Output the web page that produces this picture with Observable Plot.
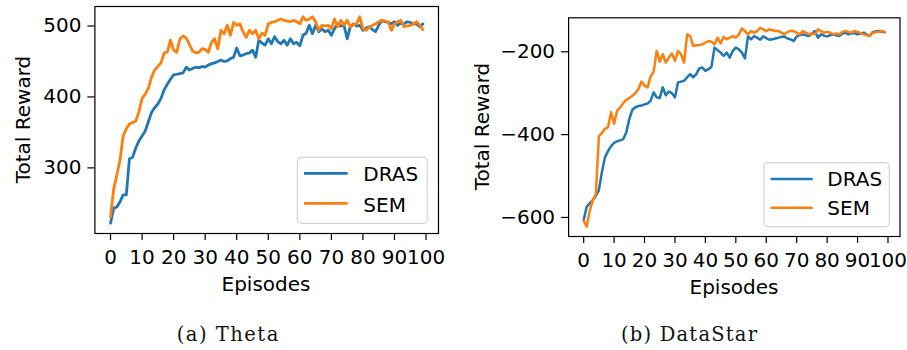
<!DOCTYPE html>
<html>
<head>
<meta charset="utf-8">
<script src="https://cdn.jsdelivr.net/npm/d3@7"></script>
<script src="https://cdn.jsdelivr.net/npm/@observablehq/plot@0.6"></script>
<style>
  html, body { margin: 0; padding: 0; background: #fff; }
  #wrap { position: relative; width: 907px; height: 350px; overflow: hidden; background: #fff; }
  .panel { position: absolute; top: 0; }
  #overlay { position: absolute; left: 0; top: 0; pointer-events: none; }
</style>
</head>
<body>
<div id="wrap">
  <div class="panel" id="left" style="left:0px"></div>
  <div class="panel" id="right" style="left:453px"></div>
  <svg id="overlay" width="907" height="350" xmlns="http://www.w3.org/2000/svg"></svg>
</div>
<script>
// ---- data ----
const episodes = d3.range(0, 100);
const xTicks = [0, 10, 20, 30, 40, 50, 60, 70, 80, 90, 100];
const seriesNames = ["DRAS", "SEM"];
const seriesColors = ["#1f77b4", "#ff7f0e"];
const captions = ["(a) Theta", "(b) DataStar"];

const thetaYTicks = [300, 400, 500];
const thetaDRAS = [222, 243, 245, 252, 262, 262, 313, 315, 328, 338,
  345, 352, 365, 378, 385, 390, 398, 410, 418, 425,
  431, 432, 433, 434, 442, 438, 440, 442, 441, 443,
  442, 445, 447, 448, 450, 452, 450, 451, 454, 456,
  469, 458, 459, 461, 462, 466, 456, 480, 476, 473,
  482, 475, 485, 478, 475, 480, 473, 482, 475, 477,
  472, 487, 490, 501, 489, 501, 492, 496, 492, 494,
  487, 496, 503, 500, 501, 482, 499, 503, 500, 501,
  494, 497, 499, 495, 492, 501, 508, 506, 505, 503,
  506, 501, 504, 503, 506, 505, 503, 503, 499, 503];
const thetaSEM = [231, 270, 290, 311, 345, 355, 362, 364, 366, 379,
  398, 404, 412, 428, 438, 443, 448, 462, 463, 480,
  466, 463, 482, 486, 483, 474, 465, 462, 463, 468,
  467, 463, 477, 482, 468, 494, 489, 501, 487, 505,
  501, 503, 492, 484, 494, 489, 494, 482, 490, 487,
  503, 505, 506, 508, 510, 508, 507, 506, 508, 506,
  503, 513, 508, 510, 513, 506, 494, 501, 500, 501,
  496, 510, 499, 508, 501, 508, 499, 502, 503, 513,
  496, 494, 498, 501, 503, 506, 508, 507, 506, 494,
  503, 506, 508, 499, 500, 501, 503, 506, 501, 495];

const dsYTicks = [-600, -400, -200];
const dataStarDRAS = [-606, -574, -566, -558, -548, -534, -490, -455, -440, -428,
  -420, -416, -414, -411, -395, -362, -340, -334, -331, -330,
  -327, -325, -318, -298, -310, -312, -286, -305, -296, -300,
  -310, -274, -272, -270, -262, -254, -262, -254, -240, -238,
  -246, -242, -236, -190, -196, -202, -210, -202, -214, -198,
  -190, -194, -202, -216, -163, -170, -162, -166, -171, -163,
  -167, -171, -170, -168, -166, -164, -163, -168, -170, -174,
  -163, -160, -158, -160, -162, -156, -150, -166, -158, -161,
  -163, -160, -158, -160, -162, -156, -154, -158, -156, -155,
  -158, -156, -154, -158, -162, -152, -151, -150, -152, -153];
const dataStarSEM = [-608, -622, -584, -558, -545, -404, -396, -386, -382, -346,
  -374, -342, -334, -324, -316, -312, -306, -300, -290, -272,
  -282, -286, -260, -248, -198, -224, -206, -226, -214, -204,
  -222, -198, -206, -226, -158, -162, -186, -184, -184, -182,
  -178, -174, -176, -182, -166, -180, -164, -170, -166, -162,
  -166, -158, -144, -150, -158, -150, -154, -150, -142, -146,
  -150, -146, -148, -150, -150, -154, -158, -152, -150, -150,
  -154, -158, -150, -154, -158, -156, -158, -146, -150, -154,
  -152, -154, -158, -156, -158, -152, -150, -152, -154, -150,
  -152, -155, -158, -160, -162, -154, -153, -152, -150, -152];

// ---- build tables ----
function table(a, b) {
  const rows = [];
  episodes.forEach((e, i) => rows.push({ep: e, v: a[i], s: seriesNames[0]}));
  episodes.forEach((e, i) => rows.push({ep: e, v: b[i], s: seriesNames[1]}));
  return rows;
}

function panel(opts) {
  const rows = table(opts.a, opts.b);
  return Plot.plot({
    width: opts.width, height: 300,
    marginLeft: opts.ml, marginRight: opts.mr, marginTop: opts.mt, marginBottom: 300 - opts.bottom,
    x: {domain: [-4.95, 103.95]},
    y: {domain: opts.ydom},
    style: {fontFamily: "DejaVu Sans", fontSize: "20px", background: "transparent", color: "black", overflow: "visible"},
    marks: [
      Plot.line(rows.filter(d => d.s === seriesNames[0]), {x: "ep", y: "v", stroke: seriesColors[0], strokeWidth: opts.lw}),
      Plot.line(rows.filter(d => d.s === seriesNames[1]), {x: "ep", y: "v", stroke: seriesColors[1], strokeWidth: opts.lw}),
      Plot.frame({stroke: "black", strokeWidth: 1.2}),
      Plot.axisX({ticks: xTicks, tickSize: 7, tickPadding: 9, label: null, fontSize: 20, strokeWidth: 1.2}),
      Plot.axisY({ticks: opts.yticks, tickSize: 7, tickPadding: 6.5, label: null, fontSize: 20, strokeWidth: 1.2})
    ]
  });
}

document.getElementById("left").appendChild(panel({
  a: thetaDRAS, b: thetaSEM, width: 453, ml: 94.4, mr: 15, mt: 6, bottom: 233,
  ydom: [207.5, 527.5], yticks: thetaYTicks, lw: 2.8
}));
document.getElementById("right").appendChild(panel({
  a: dataStarDRAS, b: dataStarSEM, width: 454, ml: 115.1, mr: 7.5, mt: 17.3, bottom: 236,
  ydom: [-646, -118], yticks: dsYTicks, lw: 2.5
}));

// ---- overlay text and legends ----
const ov = d3.select("#overlay");
function sans(x, y, txt, anchor, rot) {
  const t = ov.append("text").attr("x", x).attr("y", y).text(txt)
    .attr("font-family", "DejaVu Sans").attr("font-size", 20).attr("fill", "black")
    .attr("text-anchor", anchor || "start");
  if (rot) t.attr("transform", `rotate(-90 ${x} ${y})`).attr("dominant-baseline", "central");
  return t;
}
// axis labels
sans(266, 290.5, "Episodes", "middle");
sans(734, 293.5, "Episodes", "middle");
sans(22.7, 119.5, "Total Reward", "middle", true);
sans(482, 126.5, "Total Reward", "middle", true);

// legends
function legend(x0, y0, x1, y1, lx0, lx1, ly, tx, ty, lw) {
  ov.append("rect").attr("x", x0).attr("y", y0).attr("width", x1 - x0).attr("height", y1 - y0)
    .attr("rx", 4).attr("fill", "white").attr("fill-opacity", 0.8)
    .attr("stroke", "#d4d4d4").attr("stroke-width", 1.2);
  seriesNames.forEach((n, i) => {
    ov.append("line").attr("x1", lx0).attr("x2", lx1).attr("y1", ly[i]).attr("y2", ly[i])
      .attr("stroke", seriesColors[i]).attr("stroke-width", lw);
    sans(tx, ty[i], n);
  });
}
legend(297.3, 157.3, 427.3, 223.3, 304, 347.7, [173.3, 203.3], 363.3, [180.7, 211.7], 2.8);
legend(764, 162.7, 889.3, 226.7, 770.7, 812.7, [179, 207.7], 827.3, [186, 215], 2.5);

// captions
function caption(cx, y, txt, len) {
  ov.append("text").attr("x", cx - len / 2).attr("y", y).text(txt)
    .attr("font-family", "DejaVu Serif").attr("font-size", 19.5).attr("fill", "#111")
    .attr("textLength", len).attr("lengthAdjust", "spacing");
}
caption(227.5, 341, captions[0], 101.6);
caption(689, 341, captions[1], 136);
</script>
</body>
</html>
